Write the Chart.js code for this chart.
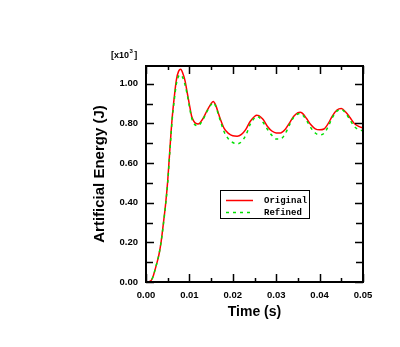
<!DOCTYPE html>
<html>
<head>
<meta charset="utf-8">
<script src="https://cdn.jsdelivr.net/npm/chart.js@4/dist/chart.umd.min.js"></script>
<style>
  html, body { margin: 0; padding: 0; background: #ffffff; }
  #wrap { width: 400px; height: 347px; }
</style>
</head>
<body>
<div id="wrap"><canvas id="c" width="400" height="347"></canvas></div>
<script>
// ---- data (energy in units of 10^3 J) ----
const timeValues = [
  0, 0.001, 0.0015, 0.002, 0.0025, 0.003, 0.0035, 0.004, 0.0045, 0.005, 0.0055, 0.006,
  0.0065, 0.007, 0.0075, 0.008, 0.0085, 0.009, 0.0095, 0.010, 0.0105, 0.011, 0.0115, 0.012,
  0.013, 0.014, 0.015, 0.0155, 0.016, 0.017, 0.018, 0.019, 0.020, 0.021, 0.022, 0.023, 0.024, 0.025,
  0.0255, 0.026, 0.027, 0.028, 0.029, 0.030, 0.031, 0.032, 0.033, 0.034, 0.035,
  0.0355, 0.036, 0.037, 0.038, 0.039, 0.040, 0.041, 0.042, 0.043, 0.044, 0.045, 0.046, 0.047, 0.048, 0.049, 0.050
];
const originalValues = [
  0, 0.004, 0.02, 0.055, 0.095, 0.14, 0.205, 0.295, 0.39, 0.51, 0.67, 0.82,
  0.93, 1.02, 1.063, 1.073, 1.052, 1.015, 0.955, 0.895, 0.838, 0.812, 0.80, 0.797,
  0.82, 0.862, 0.90, 0.911, 0.895, 0.83, 0.775, 0.75, 0.738, 0.736, 0.745, 0.77, 0.81, 0.835,
  0.842, 0.84, 0.82, 0.785, 0.762, 0.752, 0.752, 0.768, 0.80, 0.835, 0.855,
  0.857, 0.852, 0.825, 0.793, 0.773, 0.768, 0.772, 0.80, 0.84, 0.868, 0.875, 0.858, 0.83, 0.80, 0.785, 0.778
];
const refinedValues = [
  0, 0.004, 0.02, 0.055, 0.095, 0.14, 0.205, 0.29, 0.385, 0.50, 0.66, 0.81,
  0.915, 1.00, 1.038, 1.045, 1.03, 0.995, 0.945, 0.885, 0.83, 0.802, 0.79, 0.788,
  0.815, 0.858, 0.895, 0.905, 0.89, 0.822, 0.758, 0.722, 0.704, 0.697, 0.708, 0.74, 0.795, 0.828,
  0.835, 0.832, 0.805, 0.77, 0.74, 0.722, 0.722, 0.745, 0.79, 0.83, 0.848,
  0.85, 0.845, 0.815, 0.778, 0.752, 0.742, 0.75, 0.785, 0.832, 0.862, 0.87, 0.852, 0.818, 0.785, 0.768, 0.764
];
const seriesLabels = ['Original', 'Refined'];
const xMajorTicks = [0, 0.01, 0.02, 0.03, 0.04, 0.05];
const xMinorTicks = [0.005, 0.015, 0.025, 0.035, 0.045];
const yMajorTicks = [0, 0.2, 0.4, 0.6, 0.8, 1.0];
const yMinorTicks = [0.1, 0.3, 0.5, 0.7, 0.9];
const xTitle = 'Time (s)';
const yTitle = 'Artificial Energy (J)';
const yMultiplierBase = '[x10';
const yMultiplierExp = '3';
const yMultiplierEnd = ']';

const FONT = '"Liberation Sans", Arial, sans-serif';
const toPts = (vals) => vals.map((v, i) => ({ x: timeValues[i], y: v }));

const framePlugin = {
  id: 'frame',
  afterDraw(chart) {
    const ctx = chart.ctx;
    const a = chart.chartArea;
    const xs = chart.scales.x, ys = chart.scales.y;
    ctx.save();
    ctx.strokeStyle = '#000';
    ctx.lineWidth = 1.5;
    ctx.beginPath();
    const tickX = (vals, len) => vals.forEach(v => {
      const p = Math.round(xs.getPixelForValue(v)) + 0.5;
      ctx.moveTo(p, a.bottom); ctx.lineTo(p, a.bottom - len);
      ctx.moveTo(p, a.top); ctx.lineTo(p, a.top + len);
    });
    const tickY = (vals, len) => vals.forEach(v => {
      const p = Math.round(ys.getPixelForValue(v)) + 0.5;
      ctx.moveTo(a.left, p); ctx.lineTo(a.left + len, p);
      ctx.moveTo(a.right, p); ctx.lineTo(a.right - len, p);
    });
    tickX(xMajorTicks, 8); tickX(xMinorTicks, 4);
    tickY(yMajorTicks, 8); tickY(yMinorTicks, 7);
    ctx.stroke();
    ctx.lineWidth = 2;
    ctx.strokeRect(a.left, a.top, a.right - a.left, a.bottom - a.top);
    // multiplier label
    ctx.fillStyle = '#000';
    ctx.textAlign = 'left';
    ctx.textBaseline = 'alphabetic';
    ctx.font = 'bold 9px ' + FONT;
    let x0 = 111;
    ctx.fillText(yMultiplierBase, x0, 58);
    x0 += ctx.measureText(yMultiplierBase).width;
    ctx.font = 'bold 6px ' + FONT;
    ctx.fillText(yMultiplierExp, x0 + 0.5, 53);
    x0 += ctx.measureText(yMultiplierExp).width + 2;
    ctx.font = 'bold 9px ' + FONT;
    ctx.fillText(yMultiplierEnd, x0, 58);
    // legend
    const lx = 220, ly = 190, lw = 89, lh = 28;
    ctx.fillStyle = '#fff';
    ctx.fillRect(lx, ly, lw, lh);
    ctx.lineWidth = 1;
    ctx.strokeStyle = '#000';
    ctx.strokeRect(lx + 0.5, ly + 0.5, lw, lh);
    chart.data.datasets.forEach((ds, i) => {
      const yy = ly + 10.5 + i * 12;
      ctx.strokeStyle = ds.borderColor;
      ctx.lineWidth = 1.5;
      ctx.setLineDash(ds.borderDash || []);
      ctx.beginPath();
      ctx.moveTo(lx + 6, yy); ctx.lineTo(lx + 33, yy);
      ctx.stroke();
      ctx.setLineDash([]);
      ctx.fillStyle = '#000';
      ctx.font = 'bold 9px "Liberation Mono", "DejaVu Sans Mono", monospace';
      ctx.textAlign = 'left';
      ctx.textBaseline = 'middle';
      ctx.fillText(ds.label, lx + 44, yy);
    });
    ctx.restore();
  }
};

new Chart(document.getElementById('c'), {
  type: 'line',
  data: {
    datasets: [
      {
        label: seriesLabels[0],
        data: toPts(originalValues),
        borderColor: '#ff0000',
        borderWidth: 1.5,
        pointRadius: 0,
        cubicInterpolationMode: 'monotone',
        fill: false,
        order: 1
      },
      {
        label: seriesLabels[1],
        data: toPts(refinedValues),
        borderColor: '#00e000',
        borderWidth: 1.5,
        borderDash: [3, 4],
        pointRadius: 0,
        cubicInterpolationMode: 'monotone',
        fill: false,
        order: 0
      }
    ]
  },
  options: {
    responsive: false,
    animation: false,
    devicePixelRatio: 1,
    layout: { padding: { top: 66, right: 37, bottom: 0, left: 0 } },
    plugins: { legend: { display: false }, tooltip: { enabled: false } },
    scales: {
      x: {
        type: 'linear',
        min: 0, max: 0.05,
        grid: { display: false, drawTicks: false, tickLength: 0 },
        border: { display: false },
        ticks: {
          stepSize: 0.01,
          padding: 8,
          color: '#000',
          font: { family: FONT, size: 9.5, weight: 'bold' },
          maxRotation: 0,
          callback: (v) => Number(v).toFixed(2)
        },
        title: {
          display: true, text: xTitle, color: '#000',
          font: { family: FONT, size: 14, weight: 'bold' },
          padding: { top: 0, bottom: 26.6 }
        },
        afterFit: (s) => { s.height = 65; }
      },
      y: {
        type: 'linear',
        min: 0, max: 1.09,
        grid: { display: false, drawTicks: false, tickLength: 0 },
        border: { display: false },
        ticks: {
          stepSize: 0.2,
          includeBounds: false,
          padding: 8,
          color: '#000',
          font: { family: FONT, size: 9.5, weight: 'bold' },
          callback: (v) => Number(v).toFixed(2)
        },
        title: {
          display: true, text: yTitle, color: '#000',
          font: { family: FONT, size: 15, weight: 'bold' },
          padding: { top: 91, bottom: 0 }
        },
        afterFit: (s) => { s.width = 146; }
      }
    }
  },
  plugins: [framePlugin]
});
</script>
</body>
</html>
